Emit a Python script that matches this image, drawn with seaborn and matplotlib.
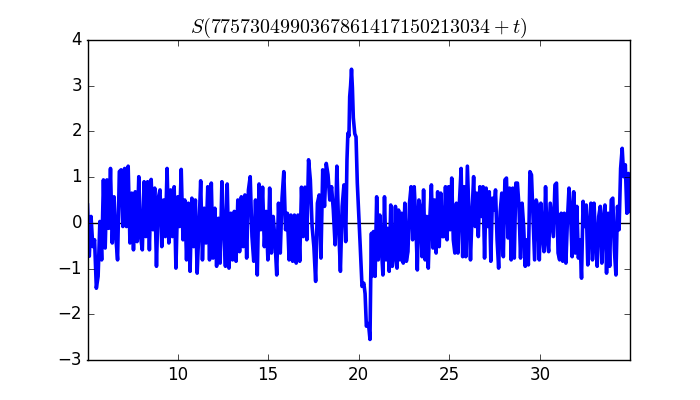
import numpy as np
import pandas as pd
import matplotlib
matplotlib.use("Agg")
import matplotlib.pyplot as plt
import seaborn as sns

# values
# left noisy part, t ~ 5.03 .. 19.28 (even steps)
s_left = [0.39, -0.73, 0.14, -0.52, -0.37, -1.43, -1.17, 0.03, -0.81, 0.94,
          -0.55, 0.94, -0.12, 1.19, -0.44, 0.57, -0.30, -0.81, 1.12, 1.16,
          -0.08, 1.19, -0.08, 1.24, -0.44, 0.65, -0.59, 0.68, -0.41, 1.01,
          -0.30, -0.59, 0.90, -0.30, 0.90, -0.59, 0.95, -0.15, 0.76, -0.95,
          0.54, 0.72, -0.52, 0.50, -0.30, 1.19, -0.44, 0.72, -0.30, 0.79,
          -0.99, 0.57, -0.08, 1.17, -0.37, 0.50, -0.81, 0.43, -1.06, 0.54,
          -0.52, 0.50, -1.10, -0.15, 0.92, -0.81, 0.32, -0.44, 0.79, -0.81,
          0.87, -0.77, 0.32, -0.95, 0.10, -0.88, 0.90,
          -0.08, -0.95, 0.85, -0.99, 0.21, -0.81, 0.25, -0.84, 0.50, -0.63,
          0.57, -0.52, 0.61, -0.77, 0.72, 1.01, -0.30, -0.84, 0.50, -1.14,
          0.85, -0.15, 0.78, -0.52, 0.25, -0.81, 0.76, -0.66, 0.14, -0.37,
          -1.14, 0.43, -0.66, 0.54, 1.12, -0.15, 0.21, -0.81, 0.17, -0.84,
          0.17, -0.88, 0.17, -0.84, 0.78, -0.30, 0.78, -0.37, 1.38, 0.94,
          -0.08, -0.52, -1.28, 0.43, 0.61, -0.77, 1.16, 0.36, 1.30, 1.05,
          0.50, 0.79, 0.28, -0.48, 1.24, -0.08, -1.06, 0.36, 0.83, -0.41]

# the big excursion around t ~ 20
t_peak = [19.35, 19.40, 19.46, 19.50, 19.55, 19.60, 19.65, 19.70, 19.78, 19.85,
          19.92, 20.00, 20.08, 20.18, 20.28, 20.35, 20.42, 20.50, 20.56, 20.62,
          20.66, 20.70]
s_peak = [1.38, 1.96, 1.90, 2.76, 3.00, 3.36, 2.95, 2.30, 1.95, 1.88,
          0.87, 0.20, -0.50, -1.39, -1.32, -1.55, -2.26, -2.20, -2.30, -2.55,
          -1.25, -0.23]

# right noisy part, t ~ 20.73 .. 34.97 (even steps)
s_right = [-1.17, -0.19, -1.17, 0.57, -0.81, 0.17, -0.52, -1.14, 0.57, -0.81,
           -0.12, -1.06, 0.39, -0.95, -0.74, 0.36, -0.99, 0.28, -0.81, 0.21,
           -0.88, 0.43, -0.84, -0.63, 0.43, 0.79, -0.37, 0.79, 0.07, -1.03,
           0.50, 0.28, -0.74, 0.72, -0.81, 0.14, -0.99, 0.10, 0.83, -0.55,
           0.50, -0.66, 0.68, -0.52, 0.65, -0.30, -0.30, 0.79, -0.37, 0.79,
           -0.15, 0.98, -0.37, -0.66, 0.43, -0.66, 0.50, 1.19, -0.74, 0.79,
           -0.74, 1.24, 0.21, -0.81, 0.21, 1.01, -0.08, 0.65, -0.30, 0.79,
           0.14, 0.79, -0.77, 0.76, -0.08, 0.68,
           -0.84, 0.54, 0.28, 0.72, -0.37, -0.99, 0.25, 0.65, -0.74, 0.94,
           0.98, -0.33, 0.76, -0.81, 0.76, -0.77, 0.87, 0.87, 0.36, -0.77,
           0.43, -0.08, -0.95, -0.37, -0.92, 1.12, 1.05, 0.10, -0.81, 0.50,
           0.36, -0.81, 0.43, -0.23, -0.63, 0.79, -0.37, -0.63, 0.43, 0.07,
           -0.30, 0.83, 0.87, -0.66, -0.81, 0.21, -0.84, 0.21, -0.88, 0.07,
           0.76, 0.21, -0.74, 0.68, -0.66, 0.36, -0.77, -0.37, -1.21, 0.47,
           -0.08, 0.39, -0.92, -0.15, 0.43, -0.81, 0.43, -0.37, -0.95, 0.14,
           0.36, -0.88, 0.07, 0.39, -1.10, 0.21, -0.95, 0.50, 0.54, -0.59,
           -1.14, 0.36, -0.15, 1.19, 1.63, 1.01, 1.27, 0.21, 1.08, 0.25]

t_left = np.linspace(5.03, 19.28, len(s_left))
t_right = np.linspace(20.73, 34.97, len(s_right))

df = pd.DataFrame({
    't': np.concatenate([t_left, t_peak, t_right]),
    'S': np.concatenate([s_left, s_peak, s_right]),
})

plt.style.use('classic')
plt.rcParams['figure.facecolor'] = 'white'
plt.rcParams['savefig.facecolor'] = 'white'

fig, ax = plt.subplots(figsize=(7, 4), dpi=100)
ax.axhline(0, color='k', lw=1, zorder=1)
sns.lineplot(data=df, x='t', y='S', color='b', lw=2.6, estimator=None,
             sort=False, ax=ax, zorder=2)
ax.set_xlim(df['t'].min(), df['t'].max())
ax.set_ylim(-3, 4)
ax.set_xlabel('')
ax.set_ylabel('')
ax.set_title(r'$S(7757304990367861417150213034+t)$')
fig.savefig('out.png', dpi=100)
